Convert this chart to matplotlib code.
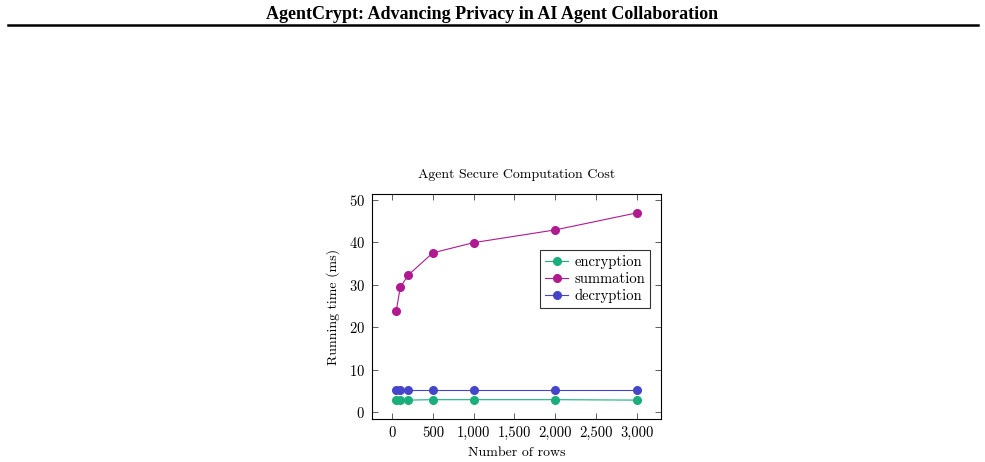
import matplotlib
matplotlib.use("Agg")
import matplotlib.pyplot as plt
from matplotlib.ticker import FuncFormatter, MultipleLocator

# Data
rows = [50, 100, 200, 500, 1000, 2000, 3000]
encryption = [2.8, 2.8, 2.8, 2.9, 2.9, 2.9, 2.8]
summation = [23.7, 29.4, 32.3, 37.5, 39.9, 42.9, 46.9]
decryption = [5.2, 5.2, 5.2, 5.2, 5.2, 5.2, 5.2]

plt.rcParams['font.family'] = ['cmr10', 'DejaVu Serif']
plt.rcParams['axes.formatter.use_mathtext'] = True

fig = plt.figure(figsize=(9.85, 4.62), dpi=100)

# Page header with rule
fig.text(0.5, 0.968, "AgentCrypt: Advancing Privacy in AI Agent Collaboration",
         ha="center", va="center", fontsize=13, fontweight="bold",
         family="Liberation Serif")
fig.add_artist(plt.Line2D([0.008, 0.993], [0.945, 0.945], color="black",
                          linewidth=1.8, transform=fig.transFigure))

ax = fig.add_axes([0.3774, 0.0931, 0.2937, 0.4864])

ax.plot(rows, encryption, color="#1aaf7a", marker="o", markersize=5.5,
        linewidth=0.8, label="encryption")
ax.plot(rows, summation, color="#b0198f", marker="o", markersize=5.5,
        linewidth=0.8, label="summation")
ax.plot(rows, decryption, color="#4545cc", marker="o", markersize=5.5,
        linewidth=0.8, label="decryption")

ax.set_xlim(-250, 3300)
ax.set_ylim(-1.65, 51.3)
ax.xaxis.set_major_locator(MultipleLocator(500))
ax.yaxis.set_major_locator(MultipleLocator(10))
ax.xaxis.set_major_formatter(FuncFormatter(lambda v, p: f"{v:,.0f}"))

ax.tick_params(direction="in", top=True, right=True, length=4,
               width=0.6, labelsize=10.5, pad=5, color="#444444")
for s in ax.spines.values():
    s.set_linewidth(0.8)

ax.set_title("Agent Secure Computation Cost", fontsize=10, pad=12)
ax.set_xlabel("Number of rows", fontsize=10, labelpad=5)
ax.set_ylabel("Running time (ms)", fontsize=10, labelpad=6)

leg = ax.legend(loc="upper right", bbox_to_anchor=(0.962, 0.752),
                fontsize=10.5, frameon=True, fancybox=False,
                edgecolor="black", handlelength=1.6, handletextpad=0.4,
                borderpad=0.35, labelspacing=0.2, borderaxespad=0)
leg.get_frame().set_linewidth(0.8)

fig.savefig("out.png", dpi=100)
